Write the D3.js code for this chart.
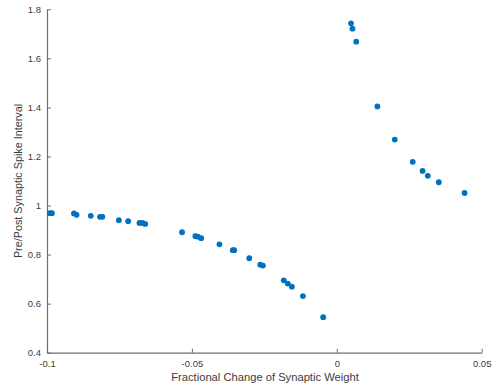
<!DOCTYPE html>
<html>
<head>
<meta charset="utf-8">
<script src="https://cdn.jsdelivr.net/npm/d3@7"></script>
<style>
  body { margin: 0; background: #fff; }
  svg { display: block; }
  text { font-family: "Liberation Sans", Arial, Helvetica, sans-serif; }
</style>
</head>
<body>
<svg id="chart" width="495" height="390"></svg>
<script>
// Data
const weightChange = [
  -0.0990, -0.0983, -0.0907, -0.0898, -0.0849, -0.0817, -0.0809,
  -0.0752, -0.0720, -0.0681, -0.0671, -0.0661, -0.0534, -0.0488,
  -0.0480, -0.0468, -0.0405, -0.0359, -0.0354, -0.0302, -0.0264,
  -0.0255, -0.0183, -0.0169, -0.0155, -0.0117, -0.0047,
  0.0049, 0.0054, 0.0067, 0.0140, 0.0200, 0.0262, 0.0296, 0.0314,
  0.0352, 0.0441
];
const spikeInterval = [
  0.969, 0.969, 0.968, 0.962, 0.958, 0.954, 0.954,
  0.940, 0.936, 0.929, 0.929, 0.925, 0.891, 0.875,
  0.873, 0.867, 0.842, 0.818, 0.818, 0.785, 0.759,
  0.755, 0.695, 0.682, 0.669, 0.631, 0.545,
  1.743, 1.721, 1.668, 1.404, 1.269, 1.178, 1.141, 1.121,
  1.095, 1.051
];
const xTicks = [-0.1, -0.05, 0, 0.05];
const xTickLabels = ["-0.1", "-0.05", "0", "0.05"];
const yTicks = [0.4, 0.6, 0.8, 1.0, 1.2, 1.4, 1.6, 1.8];
const yTickLabels = ["0.4", "0.6", "0.8", "1", "1.2", "1.4", "1.6", "1.8"];
const xLabel = "Fractional Change of Synaptic Weight";
const yLabel = "Pre/Post Synaptic Spike Interval";

const svg = d3.select("#chart");
const margin = { left: 47, right: 13.3, top: 9.3, bottom: 37.3 };
const W = 495, H = 390;

const x = d3.scaleLinear().domain([-0.1, 0.05]).range([margin.left, W - margin.right]);
const y = d3.scaleLinear().domain([0.4, 1.8]).range([H - margin.bottom, margin.top]);

const axisColor = "#6e6e6e";
const textColor = "#3c3c3c";

const xAxis = d3.axisBottom(x).tickValues(xTicks)
  .tickFormat((d, i) => xTickLabels[i]).tickSizeInner(-4).tickSizeOuter(0).tickPadding(8);
const yAxis = d3.axisLeft(y).tickValues(yTicks)
  .tickFormat((d, i) => yTickLabels[i]).tickSizeInner(-4).tickSizeOuter(0).tickPadding(6);

const gx = svg.append("g").attr("transform", `translate(0,${y(0.4)})`).call(xAxis);
const gy = svg.append("g").attr("transform", `translate(${x(-0.1)},0)`).call(yAxis);

[gx, gy].forEach(g => {
  g.select(".domain").attr("stroke", axisColor).attr("stroke-width", 1.2);
  g.selectAll(".tick line").attr("stroke", axisColor).attr("stroke-width", 1);
  g.selectAll(".tick text").attr("fill", textColor).attr("font-size", 9.5)
    .attr("font-family", "Liberation Sans, Arial, sans-serif");
});

// Points
const pts = weightChange.map((v, i) => ({ x: v, y: spikeInterval[i] }));
svg.append("g").selectAll("circle").data(pts).enter().append("circle")
  .attr("cx", d => x(d.x))
  .attr("cy", d => y(d.y))
  .attr("r", 2.9)
  .attr("fill", "#0072BD");

// Axis labels
svg.append("text")
  .attr("x", 265)
  .attr("y", 380.5)
  .attr("text-anchor", "middle")
  .attr("font-size", 11.2)
  .attr("fill", textColor)
  .text(xLabel);

svg.append("text")
  .attr("transform", `translate(22,${(y(0.4) + y(1.8)) / 2}) rotate(-90)`)
  .attr("text-anchor", "middle")
  .attr("font-size", 10.8)
  .attr("fill", textColor)
  .text(yLabel);
</script>
</body>
</html>
